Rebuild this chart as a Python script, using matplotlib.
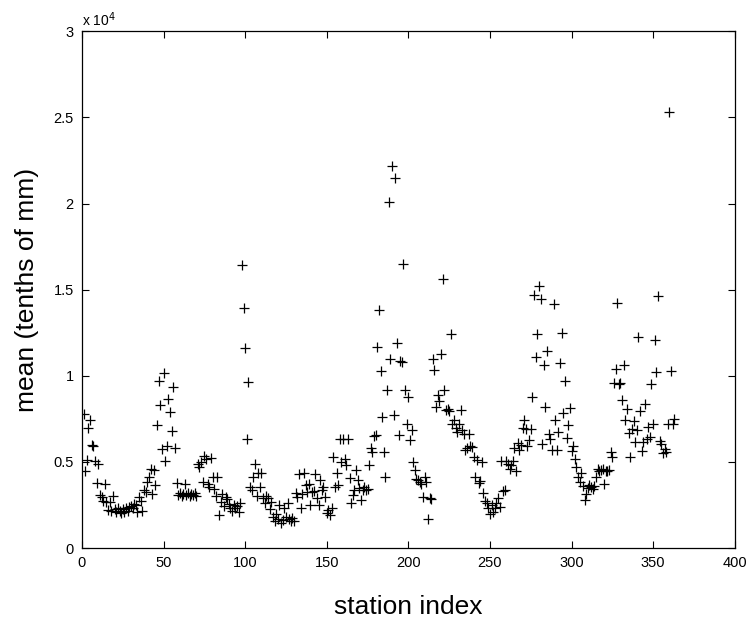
import matplotlib
matplotlib.use("Agg")
import matplotlib.pyplot as plt
import numpy as np

plt.rcParams['font.family'] = ['Liberation Sans', 'DejaVu Sans']

# Mean precipitation per station (tenths of mm), stations numbered from 1
mean_tenths_mm = [
    7760, 4500, 5100, 6950, 7450, 6000, 5950, 5050, 3800, 4900,
    3100, 2950, 2750, 3700, 2700, 2200, 2650, 2150, 3050, 2250,
    2100, 2300, 2150, 2050, 2250, 2100, 2300, 2150, 2400, 2450,
    2300, 2550, 2500, 2100, 2950, 2750, 2150, 3400, 3250, 3850,
    4150, 4600, 3150, 4550, 3650, 7150, 9700, 8300, 5750, 10150,
    5050, 5950, 8650, 7900, 6800, 9350, 5800, 3800, 3100, 3200,
    3050, 3150, 3700, 3100, 3200, 3050, 3150, 3100, 3200, 3050,
    4900, 4700, 5000, 3850, 5350, 5200, 3750, 3550, 5250, 4150,
    3450, 3000, 4150, 1900, 2650, 3150, 2450, 2950, 2850, 2550,
    2350, 2150, 2500, 2300, 2450, 2100, 2600, 16450, 13950, 11600,
    6350, 9650, 3550, 3350, 4150, 4900, 3000, 4350, 3550, 4350,
    2900, 2600, 3050, 2900, 2250, 2650, 1800, 1550, 2000, 1700,
    2500, 1450, 1650, 2300, 1800, 2600, 1700, 1550, 1750, 1600,
    3200, 2950, 4300, 2300, 3150, 4350, 3650, 3250, 3750, 2500,
    3250, 3300, 4300, 2900, 2500, 3950, 3400, 3550, 2950, 2050,
    2200, 1950, 2300, 5300, 3550, 4350, 3650, 6350, 5000, 6350,
    5200, 4800, 6350, 4050, 2600, 3100, 3400, 4550, 3950, 3500,
    2800, 3400, 3550, 3350, 3450, 4800, 5800, 5600, 6500, 6550,
    11700, 13800, 10300, 7600, 5600, 4150, 9150, 20100, 10950, 22200,
    7750, 21500, 11900, 6550, 10850, 10800, 16500, 9200, 7200, 8800,
    6250, 6850, 5000, 4550, 4000, 3950, 3850, 3700, 2950, 4150,
    3850, 1700, 2900, 2850, 11000, 10350, 8200, 8900, 8550, 11250,
    15600, 9200, 8000, 8100, 7950, 12400, 7200, 7450, 6950, 6750,
    7200, 8000, 6850, 6600, 5700, 5800, 6650, 5950, 5850, 5300,
    4100, 5100, 3800, 3900, 5000, 3200, 2750, 2600, 2300, 2000,
    2500, 2100, 2300, 2600, 2900, 2400, 5050, 3300, 3350, 5050,
    4900, 4600, 4850, 5050, 5800, 4500, 6100, 5700, 6000, 6950,
    7450, 6900, 5900, 6250, 6900, 8750, 14700, 11100, 12450, 15200,
    14450, 6050, 10600, 8200, 11450, 6650, 6350, 5700, 14150, 7450,
    5700, 6750, 10750, 12500, 7850, 9700, 6400, 7150, 8150, 5650,
    5900, 5200, 4700, 4150, 3850, 4350, 3600, 2800, 3150, 3500,
    3650, 3550, 3450, 3600, 4150, 4600, 4500, 4550, 4600, 3750,
    4500, 4450, 4550, 5600, 5300, 9600, 10400, 14250, 9550, 9600,
    8600, 10600, 7450, 8050, 6700, 5300, 6900, 7350, 6150, 6850,
    12250, 7950, 5650, 6150, 8350, 6350, 7050, 6450, 9500, 7200,
    12100, 10200, 14650, 6200, 6050, 5550, 5750, 5600, 7200, 25300,
    10300, 7200, 7500,
]
station_index = np.arange(1, len(mean_tenths_mm) + 1)

x_ticks = [0, 50, 100, 150, 200, 250, 300, 350, 400]
y_ticks = [0, 5000, 10000, 15000, 20000, 25000, 30000]
y_tick_labels = ['0', '0.5', '1', '1.5', '2', '2.5', '3']

fig = plt.figure(figsize=(7.52, 6.25), dpi=100)
ax = fig.add_axes([0.109, 0.123, 0.868, 0.827])

ax.plot(station_index, mean_tenths_mm, linestyle='none', marker='+',
        color='black', markersize=7, markeredgewidth=0.9)

ax.set_xlim(0, 400)
ax.set_ylim(0, 30000)
ax.set_xticks(x_ticks)
ax.set_yticks(y_ticks)
ax.set_yticklabels(y_tick_labels)

ax.tick_params(direction='in', length=5, width=0.8, top=True, right=True,
               labelsize=10.5, pad=6)
for spine in ax.spines.values():
    spine.set_linewidth(0.9)

ax.text(0.0, 1.005, r'x 10$^{4}$', transform=ax.transAxes,
        ha='left', va='bottom', fontsize=10)

ax.set_xlabel('station index', fontsize=19, labelpad=18)
ax.set_ylabel('mean (tenths of mm)', fontsize=19, labelpad=10)

fig.savefig('out.png', dpi=100)
